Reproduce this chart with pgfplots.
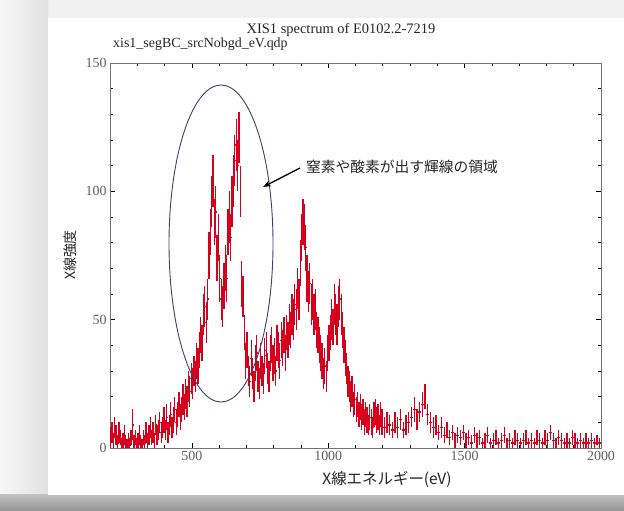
\documentclass[border=0pt]{standalone}
\usepackage{fontspec}
\setmainfont{Liberation Serif}
\newfontfamily\jp{Noto Sans CJK JP}
\usepackage{pgfplots}
\pgfplotsset{compat=1.18}
\usepackage{pgfplotstable}
\usetikzlibrary{arrows.meta}

\definecolor{specred}{RGB}{214,0,28}
\definecolor{ellcol}{RGB}{62,64,112}
\definecolor{ticklab}{RGB}{95,95,95}
\definecolor{bgcol}{RGB}{240,240,240}

% 5 eV bins, 200-1200 eV
\pgfplotstableread{
E v e
202.5 4 4
207.5 6 4
212.5 3 3
217.5 8 4
222.5 5 4
227.5 2 3
232.5 6 4
237.5 4 3
242.5 1 3
247.5 3 3
252.5 5 4
257.5 2 3
262.5 0.5 3
267.5 3 3
272.5 1 3
277.5 4 3
282.5 9 6
287.5 2 3
292.5 4 3
297.5 1 3
302.5 3 3
307.5 5 4
312.5 2 3
317.5 0.5 3
322.5 4 3
327.5 2 3
332.5 6 4
337.5 3 3
342.5 5 4
347.5 8 4
352.5 4 3
357.5 6 4
362.5 3 3
367.5 9 4
372.5 5 4
377.5 7 4
382.5 10 4
387.5 6 4
392.5 8 4
397.5 11 5
402.5 7 4
407.5 12 5
412.5 6 4
417.5 9 4
422.5 13 5
427.5 8 4
432.5 11 5
437.5 15 5
442.5 10 5
447.5 13 5
452.5 17 5
457.5 12 5
462.5 15 5
467.5 19 6
472.5 16 5
477.5 21 6
482.5 18 6
487.5 24 6
492.5 22 6
497.5 27 6
502.5 25 6
507.5 30 6
512.5 28 6
517.5 34 7
522.5 32 7
527.5 38 7
532.5 44 7
537.5 41 7
542.5 52 8
547.5 55 8
552.5 49 8
557.5 58 8
562.5 75 9
567.5 84 9
572.5 96 10
577.5 104 10
582.5 88 9
587.5 92 10
592.5 74 9
597.5 82 9
602.5 66 9
607.5 58 8
612.5 55 8
617.5 63 9
622.5 70 9
627.5 66 9
632.5 84 9
637.5 90 10
642.5 82 9
647.5 96 10
652.5 104 10
657.5 112 10
662.5 118 10
667.5 110 10
672.5 121 10
677.5 100 10
682.5 64 9
687.5 59 8
692.5 45 7
697.5 34 7
702.5 38 7
707.5 30 6
712.5 26 6
717.5 35 7
722.5 29 6
727.5 24 6
732.5 33 7
737.5 37 7
742.5 28 6
747.5 25 6
752.5 34 7
757.5 30 6
762.5 27 6
767.5 36 7
772.5 38 7
777.5 31 6
782.5 28 6
787.5 37 7
792.5 40 7
797.5 33 7
802.5 36 7
807.5 30 6
812.5 41 7
817.5 38 7
822.5 34 7
827.5 42 7
832.5 39 7
837.5 44 7
842.5 37 7
847.5 45 7
852.5 42 7
857.5 48 8
862.5 46 7
867.5 52 8
872.5 50 8
877.5 56 8
882.5 54 8
887.5 62 8
892.5 58 8
897.5 72 9
902.5 82 9
907.5 88 9
912.5 86 9
917.5 78 9
922.5 66 9
927.5 61 8
932.5 64 8
937.5 56 8
942.5 58 8
947.5 52 8
952.5 54 8
957.5 46 7
962.5 44 7
967.5 40 7
972.5 37 7
977.5 34 7
982.5 29 6
987.5 32 7
992.5 28 6
997.5 37 7
1002.5 41 7
1007.5 45 7
1012.5 50 8
1017.5 47 7
1022.5 56 8
1027.5 52 8
1032.5 48 8
1037.5 55 8
1042.5 58 8
1047.5 52 8
1052.5 46 7
1057.5 40 7
1062.5 35 7
1067.5 31 6
1072.5 26 6
1077.5 24 6
1082.5 20 6
1087.5 22 6
1092.5 17 5
1097.5 19 6
1102.5 15 5
1107.5 17 5
1112.5 13 5
1117.5 16 5
1122.5 12 5
1127.5 14 5
1132.5 10 5
1137.5 13 5
1142.5 11 5
1147.5 9 4
1152.5 12 5
1157.5 10 5
1162.5 8 4
1167.5 13 5
1172.5 14 5
1177.5 11 5
1182.5 12 5
1187.5 9 4
1192.5 13 5
1197.5 10 5
}\specA

% 10 eV bins, 1200-2000 eV
\pgfplotstableread{
E v e
1205 8 4
1215 10 4
1225 9 4
1235 7 3
1245 10 4
1255 8 4
1265 11 4
1275 7 3
1285 9 4
1295 10 4
1305 12 4
1315 15 5
1325 11 4
1335 14 4
1345 17 5
1355 20 5
1365 13 4
1375 10 4
1385 8 4
1395 9 4
1405 6 3
1415 8 4
1425 5 3
1435 7 3
1445 4 3
1455 6 3
1465 3 3
1475 5 3
1485 4 3
1495 6 3
1505 3 3
1515 4 3
1525 2 3
1535 5 3
1545 3 3
1555 4 3
1565 2 2
1575 3 3
1585 5 3
1595 2 2
1605 3 3
1615 4 3
1625 2 2
1635 3 3
1645 5 3
1655 2 2
1665 3 3
1675 2 2
1685 4 3
1695 3 3
1705 2 2
1715 3 3
1725 4 3
1735 2 2
1745 3 3
1755 2 2
1765 4 3
1775 3 3
1785 2 2
1795 4 3
1805 3 3
1815 6 3
1825 3 3
1835 2 2
1845 4 3
1855 3 3
1865 2 2
1875 3 3
1885 2 2
1895 4 3
1905 3 3
1915 2 2
1925 3 3
1935 2 2
1945 3 3
1955 2 2
1965 3 3
1975 2 2
1985 3 2
1995 2 2
}\specB

\begin{document}
\begin{tikzpicture}[x=1bp,y=1bp]
% background and card
\fill[bgcol] (0,0) rectangle (624,511);
\shade[left color=black!3, right color=black!12] (0,0) rectangle (48,511);
\shade[top color=black!25, bottom color=black!42] (0,0) rectangle (624,16);
\fill[white] (48,16) rectangle (624,493);

\begin{axis}[
  at={(110bp,63bp)}, anchor=south west,
  scale only axis, width=491bp, height=385bp,
  xmin=200, xmax=2000, ymin=0, ymax=150,
  xtick={500,1000,1500,2000},
  minor xtick={200,300,...,2000},
  ytick={0,50,100,150},
  minor ytick={0,10,...,150},
  tick align=inside,
  major tick length=5bp, minor tick length=3bp,
  every tick/.style={black, line width=0.6bp},
  axis line style={black!55, line width=0.8bp},
  tick label style={font=\fontsize{14}{16}\selectfont, text=ticklab},
  /pgf/number format/assume math mode=true,
  /pgf/number format/1000 sep={},
  scaled ticks=false,
  clip=true,
]
\addplot[color=specred, draw=none, mark=none,
  error bars/.cd, y dir=both, y explicit, x dir=both, x fixed=2.5,
  error mark=none,
  error bar style={draw=specred, line width=1.3bp}]
  table[x=E, y=v, y error=e] {\specA};
\addplot[color=specred, draw=none, mark=none,
  error bars/.cd, y dir=both, y explicit, x dir=both, x fixed=5,
  error mark=none,
  error bar style={draw=specred, line width=1.3bp}]
  table[x=E, y=v, y error=e] {\specB};
\end{axis}

% annotations
\draw[ellcol, line width=0.9bp] (221,267.5) ellipse [x radius=52, y radius=158.5];
\draw[black, line width=1.3bp, -{Stealth[length=8bp,width=6bp]}] (300,343) -- (263,324);
\node[anchor=west, inner sep=0pt, text=black!85, font=\jp\fontsize{14.8}{16}\selectfont] at (306,344) {窒素や酸素が出す輝線の領域};

% titles
\node[font=\fontsize{14.5}{16}\selectfont, text=black!85] at (341,481) {XIS1 spectrum of E0102.2-7219};
\node[anchor=west, inner sep=0pt, font=\fontsize{14}{16}\selectfont, text=black!85] at (113,466.5) {xis1\_segBC\_srcNobgd\_eV.qdp};

% axis labels
\node[font=\jp\fontsize{15.5}{17}\selectfont, text=black!85] at (387,32) {X線エネルギー(eV)};
\node[rotate=90, font=\jp\fontsize{14}{16}\selectfont, text=black!85] at (70,256) {X線強度};
\end{tikzpicture}
\end{document}
